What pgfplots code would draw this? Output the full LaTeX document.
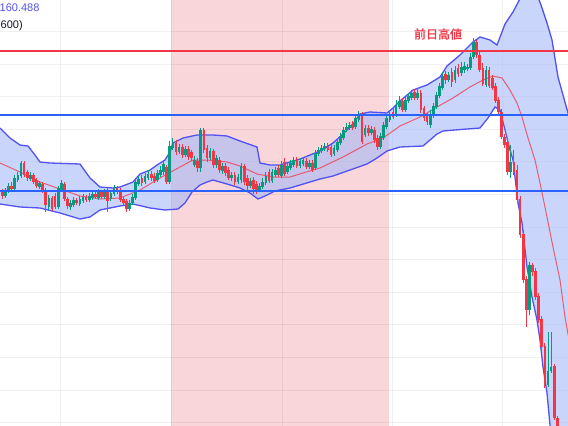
\documentclass[border=0pt]{standalone}
\usepackage{pgfplots}
\pgfplotsset{compat=1.18}
\usepackage{pgfplotstable}
\usepackage{fontspec}
\setmainfont{Liberation Sans}
\newfontfamily\cjk[FakeBold=1.2]{Noto Sans CJK JP}
\definecolor{cred}{HTML}{F23645}
\definecolor{cgreen}{HTML}{089981}
\definecolor{bandline}{RGB}{82,82,240}
\definecolor{bandfill}{RGB}{165,185,247}
\definecolor{pinkbg}{RGB}{249,214,218}
\definecolor{hblue}{HTML}{2962FF}
\definecolor{txtc}{RGB}{19,23,34}

\pgfplotstableread{
x o h l c
2.4 192 189 199 196
5.5 196 188 198 190
8.6 191 183 193 186
11.7 186 182 191 189
14.8 189 175 191 178
17.9 180 172 182 175
21.0 176 161 178 163
24.1 163 161 177 175
27.2 172 170 181 178
30.3 179 172 181 175
33.4 175 173 184 182
36.5 180 178 188 186
39.6 187 181 189 183
42.7 184 182 193 191
45.8 190 188 212 205
48.9 207 195 210 198
52.0 198 196 211 209
55.1 196 193 209 207
58.2 207 186 209 188
61.3 190 180 192 183
64.4 184 182 201 199
67.5 199 197 209 206
70.6 207 200 210 203
73.7 205 197 207 200
76.8 200 198 205 203
79.9 204 196 206 199
83.0 201 194 203 197
86.1 197 195 202 200
89.2 200 193 202 196
92.3 198 191 200 194
95.4 194 190 199 197
98.5 198 189 200 192
101.6 192 190 199 197
104.7 197 189 199 192
107.8 190 188 212 201
110.9 199 190 201 193
114.0 194 185 196 188
117.1 188 186 194 192
120.2 190 188 202 200
123.3 199 197 206 203
126.4 201 199 212 209
129.5 209 200 211 203
132.6 203 194 205 197
135.7 198 180 200 182
138.8 184 176 186 179
141.9 178 175 186 183
145.0 182 173 184 176
148.1 178 170 180 174
151.2 174 171 181 178
154.3 176 173 183 181
157.4 180 170 182 173
160.5 175 166 177 170
163.6 172 161 175 164
166.7 167 165 184 182
169.8 182 141 184 146
172.9 148 138 150 143
176.0 143 140 155 152
179.1 152 144 154 147
182.2 147 144 158 155
185.3 155 146 157 149
188.4 149 146 160 157
191.5 152 150 161 158
194.6 165 156 167 160
197.7 161 158 172 168
200.8 168 128 172 130
203.9 130 128 153 150
207.0 148 145 162 158
210.1 158 148 160 151
213.2 151 149 168 165
216.3 165 155 168 158
219.4 160 157 173 170
222.5 171 163 174 166
225.6 166 163 176 173
228.7 170 167 180 178
231.8 178 172 181 175
234.9 175 172 185 182
238.0 182 174 184 177
241.1 180 163 183 166
244.2 166 164 185 182
247.3 178 175 190 186
250.4 186 178 188 181
253.5 180 177 194 189
256.6 184 181 194 190
259.7 190 183 192 186
262.8 187 178 189 182
265.9 183 172 185 176
269.0 172 169 183 181
272.1 181 169 183 172
275.2 175 167 177 170
278.3 168 165 177 175
281.4 176 161 178 165
284.5 162 158 176 174
287.6 172 163 174 166
290.7 168 160 170 163
293.8 165 157 167 160
296.9 160 157 168 166
300.0 166 158 168 161
303.1 164 157 166 160
306.2 161 158 169 167
309.3 167 160 169 163
312.4 163 160 172 170
315.5 168 150 170 153
318.6 154 147 156 150
321.7 151 145 153 148
324.8 149 143 151 146
327.9 146 143 152 150
331.0 147 144 157 155
334.1 154 145 156 148
337.2 150 139 152 142
340.3 143 133 145 136
343.4 138 127 140 130
346.5 130 123 132 127
349.6 128 122 130 125
352.7 124 121 130 128
355.8 127 115 129 118
358.9 120 111 122 114
362.0 114 112 144 142
365.1 135 125 137 128
368.2 128 125 136 133
371.3 133 126 135 129
374.4 130 127 143 140
377.5 138 135 150 147
380.6 147 133 149 136
383.7 138 122 140 125
386.8 127 115 129 118
389.9 120 110 122 114
393.0 112 108 119 117
396.1 115 100 117 106
399.2 107 96 109 101
402.3 101 98 112 110
405.4 110 96 112 100
408.5 101 93 103 96
411.6 98 90 100 93
414.7 92 89 100 98
417.8 98 88 100 93
420.9 93 90 113 110
424.0 108 106 121 118
427.1 116 113 125 122
430.2 125 110 128 114
433.3 116 103 118 106
436.4 107 92 109 95
439.5 96 83 98 86
442.6 88 72 90 76
445.7 74 71 84 80
448.8 80 72 82 75
451.9 72 68 87 82
455.0 80 66 83 70
458.1 68 64 77 74
461.2 73 62 76 67
464.3 70 62 73 66
467.4 68 64 71 67
470.5 68 53 70 57
473.6 57 38 59 42
476.7 42 40 58 55
479.8 55 52 72 70
482.9 68 63 86 84
486.0 85 66 87 70
489.1 70 67 88 86
492.2 78 75 90 88
495.3 86 83 103 101
498.4 100 97 114 112
501.5 112 109 139 137
504.6 137 134 148 145
507.7 142 138 175 172
510.8 172 145 178 162
513.9 162 150 175 172
517.0 170 165 203 200
520.1 199 196 238 235
523.2 234 230 283 280
526.3 279 276 327 310
529.4 310 262 315 265
532.5 265 263 276 272
535.6 271 268 300 297
538.7 296 293 323 320
541.8 319 316 350 347
544.9 346 343 388 385
548.0 385 332 387 371
551.1 371 332 373 367
554.2 366 364 420 418
557.3 418 416 435 432
}\candles

\begin{document}
\begin{tikzpicture}
\begin{axis}[
  scale only axis, width=568pt, height=426pt,
  xmin=0, xmax=568, ymin=0, ymax=426, y dir=reverse,
  hide axis, clip=true,
]
\coordinate (SW) at (rel axis cs:0,0);
\coordinate (NE) at (rel axis cs:1,1);
% session highlight
\addplot[fill=pinkbg, draw=none, forget plot] coordinates {(171,-5) (389,-5) (389,431) (171,431)} --cycle;
% grid
\pgfplotsinvokeforeach{31.3,63.9,96.5,129.1,161.7,194.3,226.9,259.5,292.1,324.7,357.3,389.9,422.5}{
  \addplot[black, opacity=0.06, line width=0.8pt, forget plot] coordinates {(0,#1) (568,#1)};
}
\pgfplotsinvokeforeach{60,171,282,392,502}{
  \addplot[black, opacity=0.06, line width=0.8pt, forget plot] coordinates {(#1,0) (#1,426)};
}
% band fill
\addplot[fill=bandfill, fill opacity=0.6, draw=none, forget plot] coordinates {
(0,128) (10,138) (20,145) (28,146) (35,155) (40,162) (50,163) (80,164) (90,178) (100,187) (113,188) (120,187) (133,182) (140,174) (150,170) (157,165) (165,160) (170,152) (173,143) (183,138) (197,135) (213,135) (227,136) (240,141) (257,147) (260,163) (270,165) (280,165) (300,159) (320,151) (333,143) (343,134) (353,124) (360,114) (370,112) (387,113) (393,108) (400,101) (413,90) (427,85) (440,77) (447,66) (460,55) (473,42) (480,37) (490,40) (497,45) (505,24) (513,12) (522,-5) (537,-5) (541,5) (547,23) (552,40) (558,77) (563,95) (570,120)
(570,440) (551,440) (550,425) (547,393) (543,367) (540,340) (537,320) (532,297) (527,267) (522,223) (518,203) (513,160) (510,150) (505,130) (500,110) (495,107) (488,118) (480,128) (467,129) (443,131) (437,134) (423,146) (400,147) (387,151) (377,158) (367,164) (350,170) (333,176) (320,179) (300,185) (290,188) (275,191) (265,196) (258,199) (250,193) (240,188) (227,184) (213,180) (207,182) (200,185) (192,192) (185,203) (178,209) (165,210) (150,208) (133,204) (120,206) (100,210) (90,217) (80,219) (60,213) (40,208) (20,207) (0,204)
} --cycle;
% band lines
\addplot[bandline, line width=1.3pt, forget plot] coordinates {
(0,128) (10,138) (20,145) (28,146) (35,155) (40,162) (50,163) (80,164) (90,178) (100,187) (113,188) (120,187) (133,182) (140,174) (150,170) (157,165) (165,160) (170,152) (173,143) (183,138) (197,135) (213,135) (227,136) (240,141) (257,147) (260,163) (270,165) (280,165) (300,159) (320,151) (333,143) (343,134) (353,124) (360,114) (370,112) (387,113) (393,108) (400,101) (413,90) (427,85) (440,77) (447,66) (460,55) (473,42) (480,37) (490,40) (497,45) (505,24) (513,12) (522,-5) (537,-5) (541,5) (547,23) (552,40) (558,77) (563,95) (570,120)};
\addplot[bandline, line width=1.3pt, forget plot] coordinates {
(0,204) (20,207) (40,208) (60,213) (80,219) (90,217) (100,210) (120,206) (133,204) (150,208) (165,210) (178,209) (185,203) (192,192) (200,185) (207,182) (213,180) (227,184) (240,188) (250,193) (258,199) (265,196) (275,191) (290,188) (300,185) (320,179) (333,176) (350,170) (367,164) (377,158) (387,151) (400,147) (423,146) (437,134) (443,131) (467,129) (480,128) (488,118) (495,107) (500,110) (505,130) (510,150) (513,160) (518,203) (522,223) (527,267) (532,297) (537,320) (540,340) (543,367) (547,393) (550,425) (551,440)};
% moving average
\addplot[cred, opacity=0.75, line width=1pt, forget plot] coordinates {
(0,163) (20,172) (40,182) (60,189) (80,196) (100,199) (120,198) (140,190) (160,178) (180,167) (193,160) (207,160) (227,162) (240,166) (257,174) (273,177) (290,177) (303,173) (320,168) (343,157) (367,144) (383,138) (393,131) (400,126) (420,117) (437,107) (453,98) (470,87) (483,80) (493,76) (502,78) (510,90) (517,103) (522,117) (528,138) (535,160) (540,183) (547,217) (553,247) (560,280) (565,317) (570,345)};
% candles: wicks
\addplot[draw=none, mark=none, forget plot,
  restrict expr to domain={\thisrow{c}-\thisrow{o}}{0.001:1000},
  error bars/.cd, y dir=both, y explicit, error mark=none,
  error bar style={draw=cred, line width=0.9pt}]
  table[x=x, y expr={(\thisrow{h}+\thisrow{l})/2}, y error expr={(\thisrow{l}-\thisrow{h})/2}] {\candles};
\addplot[draw=none, mark=none, forget plot,
  restrict expr to domain={\thisrow{c}-\thisrow{o}}{-1000:-0.001},
  error bars/.cd, y dir=both, y explicit, error mark=none,
  error bar style={draw=cgreen, line width=0.9pt}]
  table[x=x, y expr={(\thisrow{h}+\thisrow{l})/2}, y error expr={(\thisrow{l}-\thisrow{h})/2}] {\candles};
% candles: bodies
\addplot[draw=none, mark=none, forget plot,
  restrict expr to domain={\thisrow{c}-\thisrow{o}}{0.001:1000},
  error bars/.cd, y dir=both, y explicit, error mark=none,
  error bar style={draw=cred, line width=2.7pt}]
  table[x=x, y expr={(\thisrow{o}+\thisrow{c})/2}, y error expr={abs(\thisrow{c}-\thisrow{o})/2}] {\candles};
\addplot[draw=none, mark=none, forget plot,
  restrict expr to domain={\thisrow{c}-\thisrow{o}}{-1000:-0.001},
  error bars/.cd, y dir=both, y explicit, error mark=none,
  error bar style={draw=cgreen, line width=2.7pt}]
  table[x=x, y expr={(\thisrow{o}+\thisrow{c})/2}, y error expr={abs(\thisrow{c}-\thisrow{o})/2}] {\candles};
% horizontal drawings
\addplot[cred, line width=2pt, forget plot] coordinates {(0,51) (568,51)};
\addplot[hblue, line width=2.6pt, forget plot] coordinates {(0,115) (568,115)};
\addplot[hblue, line width=2.6pt, forget plot] coordinates {(0,191) (568,191)};
% texts
\node[anchor=center, text=cred, font=\cjk\fontsize{12}{14}\selectfont, inner sep=0pt] at (axis cs:438,34) {前日高値};
\node[anchor=west, text=bandline, font=\fontsize{11}{13}\selectfont, inner sep=0pt] at (axis cs:-0.5,8) {160.488};
\node[anchor=west, text=txtc, font=\fontsize{11}{13}\selectfont, inner sep=0pt] at (axis cs:-3.2,26) {(600)};
\end{axis}
\pgfresetboundingbox
\path[use as bounding box] (SW) rectangle (NE);
\end{tikzpicture}
\end{document}
